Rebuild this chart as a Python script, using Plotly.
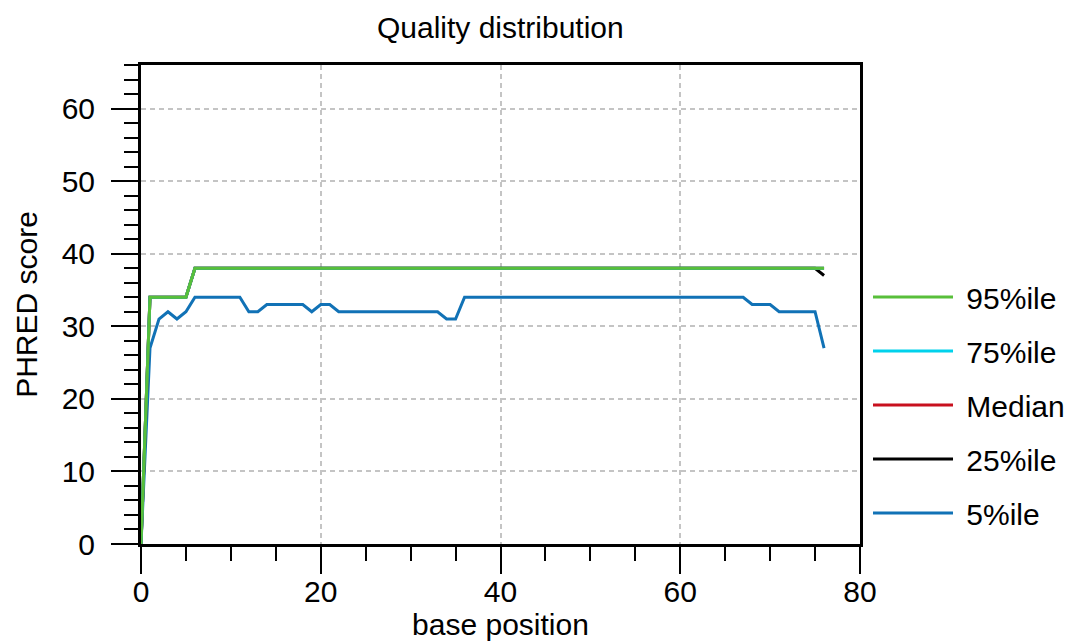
import plotly.graph_objects as go

positions = list(range(77))

p5 = [0, 27, 31, 32, 31, 32, 34, 34, 34, 34, 34, 34, 32, 32, 33, 33, 33, 33, 33, 32,
      33, 33] + [32] * 12 + [31, 31] + [34] * 32 + [33, 33, 33] + [32] * 5 + [27]
p95 = [0, 34, 34, 34, 34, 34] + [38] * 71
p75 = list(p95)
median = list(p95)
p25 = [0, 34, 34, 34, 34, 34] + [38] * 70 + [37]

# drawing order: 5%ile first (bottom) ... 95%ile last (top)
names = ["5%ile", "25%ile", "Median", "75%ile", "95%ile"]
series = [p5, p25, median, p75, p95]
colors = ["#1172b6", "#000000", "#c8101e", "#00d2ec", "#58bf3a"]
legend_ranks = [5, 4, 3, 2, 1]

FONT = "Liberation Sans, Arial, sans-serif"
FS = 30

fig = go.Figure()
for n, s, c, r in zip(names, series, colors, legend_ranks):
    fig.add_trace(go.Scatter(x=positions, y=s, mode="lines", name="\u00a0" + n,
                             line=dict(color=c, width=3), legendgroup=n,
                             legendrank=r))

axis_common = dict(
    showline=True, linecolor="black", linewidth=3, mirror=True,
    ticks="outside", ticklen=27, tickwidth=2, tickcolor="black",
    showgrid=True, gridcolor="#c4c4c4", gridwidth=2, griddash="5px,4px",
    zeroline=False, automargin=False,
    tickfont=dict(size=FS, color="black", family=FONT),
)

fig.update_xaxes(range=[0, 80], dtick=20, tick0=0,
                 minor=dict(dtick=5, ticks="outside", ticklen=14, tickwidth=2, tickcolor="black", showgrid=False),
                 title=dict(text="base position", font=dict(size=FS, color="black", family=FONT), standoff=4),
                 ticklabelstandoff=-8,
                 **axis_common)
fig.update_yaxes(range=[0, 66], dtick=10, tick0=0,
                 minor=dict(dtick=2, ticks="outside", ticklen=14, tickwidth=2, tickcolor="black", showgrid=False),
                 title=dict(text="PHRED score", font=dict(size=FS, color="black", family=FONT), standoff=16),
                 ticklabelstandoff=10,
                 **axis_common)

fig.update_layout(
    width=1076, height=644,
    margin=dict(l=141, r=216, t=65, b=100, pad=0, autoexpand=False),
    paper_bgcolor="white", plot_bgcolor="white",
    font=dict(family=FONT, color="black"),
    title=dict(text="Quality distribution", x=0.465, xanchor="center", y=0.958, yanchor="middle",
               font=dict(size=FS, color="black", family=FONT)),
    legend=dict(xref="container", yref="container", x=0.8067, xanchor="left",
                y=0.371, yanchor="middle",
                traceorder="grouped", tracegroupgap=12,
                itemwidth=80, font=dict(size=FS, color="black", family=FONT),
                bgcolor="rgba(0,0,0,0)", borderwidth=0),
)

fig.write_html("out.html")
